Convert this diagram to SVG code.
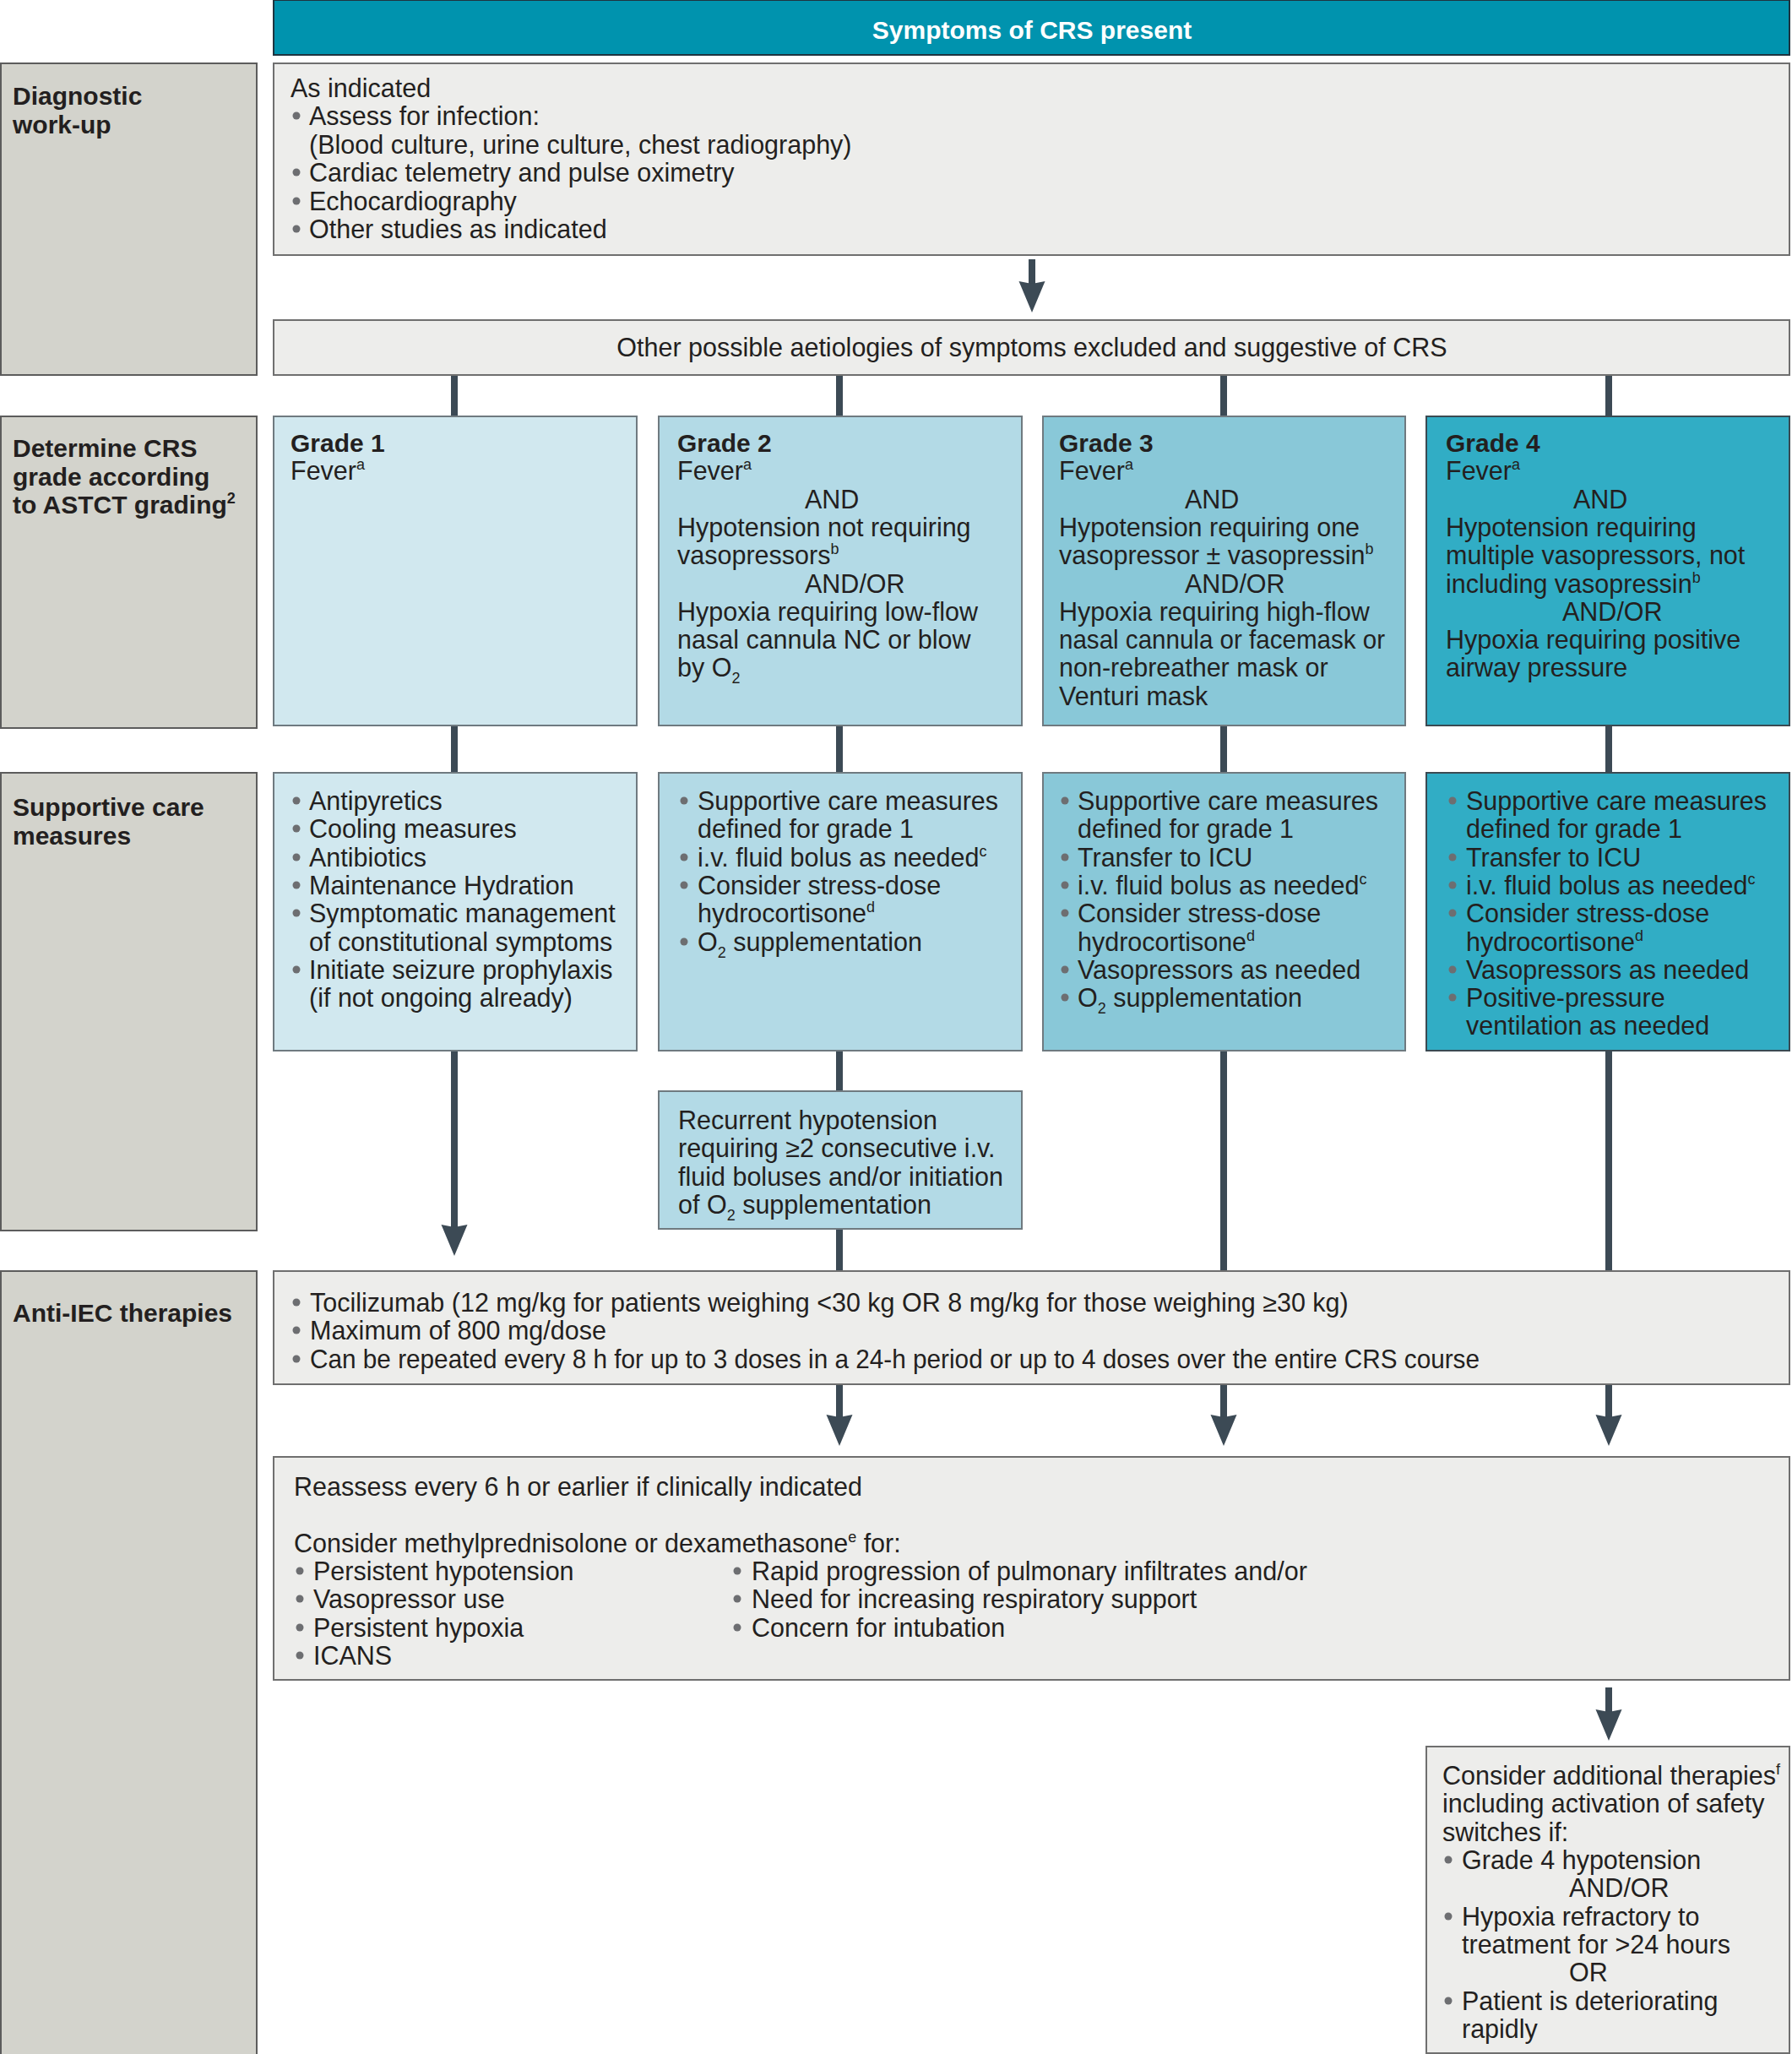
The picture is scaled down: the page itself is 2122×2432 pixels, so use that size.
<svg xmlns="http://www.w3.org/2000/svg" width="2122" height="2432" viewBox="0 0 2122 2432">
<style>
text{font-family:"Liberation Sans",Arial,sans-serif;font-size:30.5px;fill:#231f20}
.b{font-weight:bold;font-size:30px}
.w{fill:#ffffff}
.c{text-anchor:middle}
.lab{fill:#d3d3cc;stroke:#5c5c5c;stroke-width:2}
.box{fill:#ededeb;stroke:#6f6f6f;stroke-width:2}
.g1{fill:#d1e8ef;stroke:#6f7a80;stroke-width:2}
.g2{fill:#b3dae6;stroke:#6f7a80;stroke-width:2}
.g3{fill:#89c8d8;stroke:#6f7a80;stroke-width:2}
.g4{fill:#31adc5;stroke:#3a4a52;stroke-width:2}
.d{fill:#6d6e71}
.con line{stroke:#3c4a55;stroke-width:8;fill:none}
.arr{marker-end:url(#ah)}
</style>
<defs>
<marker id="ah" markerUnits="userSpaceOnUse" markerWidth="40" markerHeight="34" viewBox="0 0 40 34" refX="17" refY="17" orient="auto">
<path d="M0,1.5 L37,17 L0,32.5 L3,17 Z" fill="#3c4a55"/>
</marker>
</defs>
<rect width="2122" height="2432" fill="#ffffff"/>

<g id="connectors" class="con">
<line class="arr" x1="1222" y1="307" x2="1222" y2="350"/>
<line x1="538" y1="444" x2="538" y2="493"/>
<line x1="994" y1="444" x2="994" y2="493"/>
<line x1="1449" y1="444" x2="1449" y2="493"/>
<line x1="1905" y1="444" x2="1905" y2="493"/>
<line x1="538" y1="859" x2="538" y2="915"/>
<line x1="994" y1="859" x2="994" y2="915"/>
<line x1="1449" y1="859" x2="1449" y2="915"/>
<line x1="1905" y1="859" x2="1905" y2="915"/>
<line class="arr" x1="538" y1="1244" x2="538" y2="1467"/>
<line x1="994" y1="1244" x2="994" y2="1292"/>
<line x1="994" y1="1455" x2="994" y2="1505"/>
<line x1="1449" y1="1244" x2="1449" y2="1505"/>
<line x1="1905" y1="1244" x2="1905" y2="1505"/>
<line class="arr" x1="994" y1="1638" x2="994" y2="1692"/>
<line class="arr" x1="1449" y1="1638" x2="1449" y2="1692"/>
<line class="arr" x1="1905" y1="1638" x2="1905" y2="1692"/>
<line class="arr" x1="1905" y1="1998" x2="1905" y2="2041"/>
</g>

<g id="header">
<rect x="324" y="0" width="1795" height="65" fill="#0093ae" stroke="#1f3440" stroke-width="2"/>
<text class="b w c" x="1222" y="46">Symptoms of CRS present</text>
</g>

<g id="label-diagnostic">
<rect class="lab" x="1" y="75" width="303" height="369"/>
<text class="b" x="15" y="124">Diagnostic</text>
<text class="b" x="15" y="158">work-up</text>
</g>

<g id="diagnostic-workup">
<rect class="box" x="324" y="75" width="1795" height="227"/>
<text x="344" y="115">As indicated</text>
<circle class="d" cx="351" cy="137" r="4.5"/><text x="366" y="148">Assess for infection:</text>
<text x="366" y="182">(Blood culture, urine culture, chest radiography)</text>
<circle class="d" cx="351" cy="204" r="4.5"/><text x="366" y="215">Cardiac telemetry and pulse oximetry</text>
<circle class="d" cx="351" cy="238" r="4.5"/><text x="366" y="249">Echocardiography</text>
<circle class="d" cx="351" cy="271" r="4.5"/><text x="366" y="282">Other studies as indicated</text>
</g>

<g id="other-aetiologies">
<rect class="box" x="324" y="379" width="1795" height="65"/>
<text class="c" x="1222" y="422">Other possible aetiologies of symptoms excluded and suggestive of CRS</text>
</g>

<g id="label-grade">
<rect class="lab" x="1" y="493" width="303" height="369"/>
<text class="b" x="15" y="541">Determine CRS</text>
<text class="b" x="15" y="575">grade according</text>
<text class="b" x="15" y="608">to ASTCT grading<tspan font-size="18" dy="-12">2</tspan></text>
</g>

<g id="grade1">
<rect class="g1" x="324" y="493" width="430" height="366"/>
<text class="b" x="344" y="535">Grade 1</text>
<text x="344" y="568">Fever<tspan font-size="18" dy="-12">a</tspan></text>
</g>

<g id="grade2">
<rect class="g2" x="780" y="493" width="430" height="366"/>
<text class="b" x="802" y="535">Grade 2</text>
<text x="802" y="568">Fever<tspan font-size="18" dy="-12">a</tspan></text>
<text x="953" y="602">AND</text>
<text x="802" y="635">Hypotension not requiring</text>
<text x="802" y="668">vasopressors<tspan font-size="18" dy="-12">b</tspan></text>
<text x="953" y="702">AND/OR</text>
<text x="802" y="735">Hypoxia requiring low-flow</text>
<text x="802" y="768">nasal cannula NC or blow</text>
<text x="802" y="801">by O<tspan font-size="18" dy="8">2</tspan></text>
</g>

<g id="grade3">
<rect class="g3" x="1235" y="493" width="429" height="366"/>
<text class="b" x="1254" y="535">Grade 3</text>
<text x="1254" y="568">Fever<tspan font-size="18" dy="-12">a</tspan></text>
<text x="1403" y="602">AND</text>
<text x="1254" y="635">Hypotension requiring one</text>
<text x="1254" y="668">vasopressor ± vasopressin<tspan font-size="18" dy="-12">b</tspan></text>
<text x="1403" y="702">AND/OR</text>
<text x="1254" y="735">Hypoxia requiring high-flow</text>
<text x="1254" y="768" textLength="386" lengthAdjust="spacingAndGlyphs">nasal cannula or facemask or</text>
<text x="1254" y="801">non-rebreather mask or</text>
<text x="1254" y="835">Venturi mask</text>
</g>

<g id="grade4">
<rect class="g4" x="1689" y="493" width="430" height="366"/>
<text class="b" x="1712" y="535">Grade 4</text>
<text x="1712" y="568">Fever<tspan font-size="18" dy="-12">a</tspan></text>
<text x="1863" y="602">AND</text>
<text x="1712" y="635">Hypotension requiring</text>
<text x="1712" y="668">multiple vasopressors, not</text>
<text x="1712" y="702">including vasopressin<tspan font-size="18" dy="-12">b</tspan></text>
<text x="1850" y="735">AND/OR</text>
<text x="1712" y="768">Hypoxia requiring positive</text>
<text x="1712" y="801">airway pressure</text>
</g>

<g id="label-supportive">
<rect class="lab" x="1" y="915" width="303" height="542"/>
<text class="b" x="15" y="966">Supportive care</text>
<text class="b" x="15" y="1000">measures</text>
</g>

<g id="supportive1">
<rect class="g1" x="324" y="915" width="430" height="329"/>
<circle class="d" cx="351" cy="948" r="4.5"/><text x="366" y="959">Antipyretics</text>
<circle class="d" cx="351" cy="981" r="4.5"/><text x="366" y="992">Cooling measures</text>
<circle class="d" cx="351" cy="1015" r="4.5"/><text x="366" y="1026">Antibiotics</text>
<circle class="d" cx="351" cy="1048" r="4.5"/><text x="366" y="1059">Maintenance Hydration</text>
<circle class="d" cx="351" cy="1081" r="4.5"/><text x="366" y="1092">Symptomatic management</text>
<text x="366" y="1126">of constitutional symptoms</text>
<circle class="d" cx="351" cy="1148" r="4.5"/><text x="366" y="1159">Initiate seizure prophylaxis</text>
<text x="366" y="1192">(if not ongoing already)</text>
</g>

<g id="supportive2">
<rect class="g2" x="780" y="915" width="430" height="329"/>
<circle class="d" cx="810" cy="948" r="4.5"/><text x="826" y="959">Supportive care measures</text>
<text x="826" y="992">defined for grade 1</text>
<circle class="d" cx="810" cy="1015" r="4.5"/><text x="826" y="1026">i.v. fluid bolus as needed<tspan font-size="18" dy="-12">c</tspan></text>
<circle class="d" cx="810" cy="1048" r="4.5"/><text x="826" y="1059">Consider stress-dose</text>
<text x="826" y="1092">hydrocortisone<tspan font-size="18" dy="-12">d</tspan></text>
<circle class="d" cx="810" cy="1115" r="4.5"/><text x="826" y="1126">O<tspan font-size="18" dy="8">2</tspan><tspan dy="-8"> supplementation</tspan></text>
</g>

<g id="supportive3">
<rect class="g3" x="1235" y="915" width="429" height="329"/>
<circle class="d" cx="1261" cy="948" r="4.5"/><text x="1276" y="959">Supportive care measures</text>
<text x="1276" y="992">defined for grade 1</text>
<circle class="d" cx="1261" cy="1015" r="4.5"/><text x="1276" y="1026">Transfer to ICU</text>
<circle class="d" cx="1261" cy="1048" r="4.5"/><text x="1276" y="1059">i.v. fluid bolus as needed<tspan font-size="18" dy="-12">c</tspan></text>
<circle class="d" cx="1261" cy="1081" r="4.5"/><text x="1276" y="1092">Consider stress-dose</text>
<text x="1276" y="1126">hydrocortisone<tspan font-size="18" dy="-12">d</tspan></text>
<circle class="d" cx="1261" cy="1148" r="4.5"/><text x="1276" y="1159">Vasopressors as needed</text>
<circle class="d" cx="1261" cy="1181" r="4.5"/><text x="1276" y="1192">O<tspan font-size="18" dy="8">2</tspan><tspan dy="-8"> supplementation</tspan></text>
</g>

<g id="supportive4">
<rect class="g4" x="1689" y="915" width="430" height="329"/>
<circle class="d" cx="1720" cy="948" r="4.5"/><text x="1736" y="959">Supportive care measures</text>
<text x="1736" y="992">defined for grade 1</text>
<circle class="d" cx="1720" cy="1015" r="4.5"/><text x="1736" y="1026">Transfer to ICU</text>
<circle class="d" cx="1720" cy="1048" r="4.5"/><text x="1736" y="1059">i.v. fluid bolus as needed<tspan font-size="18" dy="-12">c</tspan></text>
<circle class="d" cx="1720" cy="1081" r="4.5"/><text x="1736" y="1092">Consider stress-dose</text>
<text x="1736" y="1126">hydrocortisone<tspan font-size="18" dy="-12">d</tspan></text>
<circle class="d" cx="1720" cy="1148" r="4.5"/><text x="1736" y="1159">Vasopressors as needed</text>
<circle class="d" cx="1720" cy="1181" r="4.5"/><text x="1736" y="1192">Positive-pressure</text>
<text x="1736" y="1225">ventilation as needed</text>
</g>

<g id="recurrent-hypotension">
<rect class="g2" x="780" y="1292" width="430" height="163"/>
<text x="803" y="1337">Recurrent hypotension</text>
<text x="803" y="1370">requiring ≥2 consecutive i.v.</text>
<text x="803" y="1404">fluid boluses and/or initiation</text>
<text x="803" y="1437">of O<tspan font-size="18" dy="8">2</tspan><tspan dy="-8"> supplementation</tspan></text>
</g>

<g id="label-anti-iec">
<rect class="lab" x="1" y="1505" width="303" height="930"/>
<text class="b" x="15" y="1565">Anti-IEC therapies</text>
</g>

<g id="tocilizumab">
<rect class="box" x="324" y="1505" width="1795" height="134"/>
<circle class="d" cx="351" cy="1542" r="4.5"/><text x="367" y="1553">Tocilizumab (12 mg/kg for patients weighing &lt;30 kg OR 8 mg/kg for those weighing ≥30 kg)</text>
<circle class="d" cx="351" cy="1575" r="4.5"/><text x="367" y="1586">Maximum of 800 mg/dose</text>
<circle class="d" cx="351" cy="1609" r="4.5"/><text x="367" y="1620" textLength="1385" lengthAdjust="spacingAndGlyphs">Can be repeated every 8 h for up to 3 doses in a 24-h period or up to 4 doses over the entire CRS course</text>
</g>

<g id="reassess">
<rect class="box" x="324" y="1725" width="1795" height="264"/>
<text x="348" y="1771">Reassess every 6 h or earlier if clinically indicated</text>
<text x="348" y="1838">Consider methylprednisolone or dexamethasone<tspan font-size="18" dy="-12">e</tspan><tspan dy="12"> for:</tspan></text>
<circle class="d" cx="355" cy="1860" r="4.5"/><text x="371" y="1871">Persistent hypotension</text>
<circle class="d" cx="355" cy="1893" r="4.5"/><text x="371" y="1904">Vasopressor use</text>
<circle class="d" cx="355" cy="1927" r="4.5"/><text x="371" y="1938">Persistent hypoxia</text>
<circle class="d" cx="355" cy="1960" r="4.5"/><text x="371" y="1971">ICANS</text>
<circle class="d" cx="873" cy="1860" r="4.5"/><text x="890" y="1871">Rapid progression of pulmonary infiltrates and/or</text>
<circle class="d" cx="873" cy="1893" r="4.5"/><text x="890" y="1904">Need for increasing respiratory support</text>
<circle class="d" cx="873" cy="1927" r="4.5"/><text x="890" y="1938">Concern for intubation</text>
</g>

<g id="additional-therapies">
<rect class="box" x="1689" y="2068" width="430" height="363"/>
<text x="1708" y="2113">Consider additional therapies<tspan font-size="18" dy="-12">f</tspan></text>
<text x="1708" y="2146">including activation of safety</text>
<text x="1708" y="2180">switches if:</text>
<circle class="d" cx="1715" cy="2202" r="4.5"/><text x="1731" y="2213">Grade 4 hypotension</text>
<text x="1858" y="2246">AND/OR</text>
<circle class="d" cx="1715" cy="2269" r="4.5"/><text x="1731" y="2280">Hypoxia refractory to</text>
<text x="1731" y="2313">treatment for &gt;24 hours</text>
<text x="1858" y="2346">OR</text>
<circle class="d" cx="1715" cy="2369" r="4.5"/><text x="1731" y="2380">Patient is deteriorating</text>
<text x="1731" y="2413">rapidly</text>
</g>
</svg>
